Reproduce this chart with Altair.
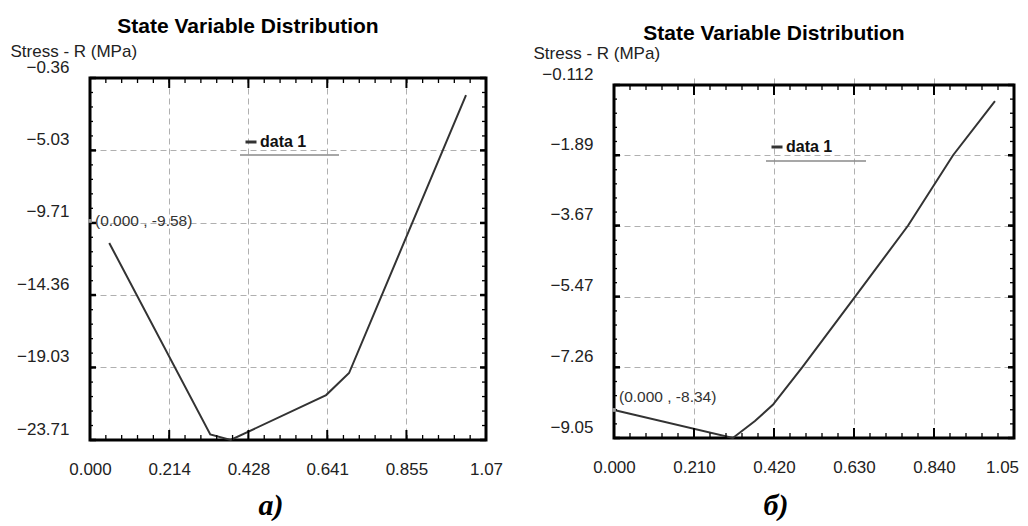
import altair as alt
import pandas as pd
import numpy as np

FONT = "Liberation Sans, Arial, sans-serif"
SERIF = "Liberation Serif, Times New Roman, serif"

TITLE = "State Variable Distribution"
Y_TITLE = "Stress - R (MPa)"
SERIES = "data 1"

# ---- panel a) ----
a_x = [0.052, 0.325, 0.380, 0.638, 0.700, 1.016]
a_y = [-11.00, -23.35, -23.71, -20.81, -19.39, -1.46]
a_xticks = [0.0, 0.214, 0.428, 0.641, 0.855, 1.07]
a_yticks = [-23.71, -19.03, -14.36, -9.71, -5.03, -0.36]
a_note_x = [0.0]
a_note_y = [-9.58]
a_note_txt = ["(0.000 , -9.58)"]
a_caption = "а)"

# ---- panel б) ----
b_x = [0.0, 0.312, 0.370, 0.417, 0.494, 0.633, 0.772, 0.890, 1.000]
b_y = [-8.34, -9.05, -8.62, -8.21, -7.26, -5.47, -3.67, -1.89, -0.52]
b_xticks = [0.0, 0.21, 0.42, 0.63, 0.84, 1.05]
b_yticks = [-9.05, -7.26, -5.47, -3.67, -1.89, -0.112]
b_note_x = [0.0]
b_note_y = [-8.34]
b_note_txt = ["(0.000 , -8.34)"]
b_caption = "б)"

XEXPR = "datum.value > 1 ? format(datum.value, '.2f') : format(datum.value, '.3f')"


def panel(xs, ys, xticks, yticks, nx, ny, ntxt, W, H, top, caption, cfg, yexpr):
    xmin, xmax = xticks[0], xticks[-1]
    ymin, ymax = yticks[0], yticks[-1]
    xsc = alt.Scale(domain=[xmin, xmax], nice=False, zero=False)
    ysc = alt.Scale(domain=[ymin, ymax], range=[H, top], nice=False, zero=False)

    xgrid_op = {"condition": {"test": f"datum.value <= {xmin + 1e-6} || datum.value >= {xmax - 1e-6}",
                              "value": 0}, "value": 1}
    ygrid_op = {"condition": {"test": f"datum.value <= {ymin + 1e-6} || datum.value >= {ymax - 1e-6}",
                              "value": 0}, "value": 1}
    last_off = {"condition": {"test": f"datum.value >= {xmax - 1e-6}", "value": cfg["lastoff"]},
                "value": 0}

    xaxis = alt.Axis(
        orient="bottom",
        values=xticks, grid=True, gridColor="#b0b0b0", gridDash=[6, 4], gridWidth=1,
        gridOpacity=xgrid_op, ticks=False, domain=False, labelFlush=False,
        labelOverlap=False, labelPadding=21, labelOffset=last_off, labelExpr=XEXPR, title=None,
        labelFont=FONT, labelFontSize=17, labelColor="#222")
    yaxis = alt.Axis(
        orient="left",
        values=yticks, grid=True, gridColor="#b0b0b0", gridDash=[6, 4], gridWidth=1,
        gridOpacity=ygrid_op, ticks=False, domain=False, labelFlush=False,
        labelOverlap=False, labelPadding=21, labelOffset=-11, labelExpr=yexpr,
        labelFont=FONT, labelFontSize=17, labelColor="#222",
        title=Y_TITLE, titleAngle=0, titleAlign="left", titleBaseline="alphabetic",
        titleX=cfg["ytx"], titleY=cfg["yty"], titleFontWeight="normal",
        titleFontSize=17, titleFont=FONT, titleColor="#222")

    # frame
    fdf = pd.DataFrame({"k": [0]})
    frame = alt.Chart(fdf).mark_rect(filled=False, stroke="black", strokeWidth=3).encode(
        x=alt.value(0), x2=alt.value(W), y=alt.value(top), y2=alt.value(H))

    # the data line carries the axes
    df_line = pd.DataFrame({"x": xs, "y": ys, "series": [SERIES] * len(xs)})
    line = alt.Chart(df_line).mark_line(strokeWidth=2).encode(
        x=alt.X("x:Q", scale=xsc, axis=xaxis),
        y=alt.Y("y:Q", scale=ysc, axis=yaxis),
        color=alt.Color("series:N", scale=alt.Scale(range=["#333333"]), legend=alt.Legend(
            orient="none", legendX=cfg["legx"], legendY=cfg["legy"], title=None,
            symbolType="stroke", symbolSize=121, symbolStrokeWidth=3, padding=0,
            labelOffset=1, labelFont=FONT, labelFontSize=16, labelFontWeight="bold",
            labelColor="#111")),
    )

    def Xn():
        return alt.X("x:Q", scale=xsc, axis=None)

    def Yn():
        return alt.Y("y:Q", scale=ysc, axis=None)

    # inward ticks on the frame: short stroke symbols placed by the axis scales
    xminor = list(np.linspace(xmin, xmax, 26))
    yminor = list(np.linspace(ymin, ymax, 26))

    def xt(vals, edge, L, w, sign):
        df = pd.DataFrame({"x": vals, "y": [edge] * len(vals)})
        return alt.Chart(df).mark_point(shape="M0,-1L0,1", filled=False, stroke="black",
                                        strokeWidth=w, size=L * L, opacity=1,
                                        yOffset=sign * L / 2).encode(x=Xn(), y=Yn())

    def yt(vals, edge, L, w, sign):
        df = pd.DataFrame({"x": [edge] * len(vals), "y": vals})
        return alt.Chart(df).mark_point(shape="M-1,0L1,0", filled=False, stroke="black",
                                        strokeWidth=w, size=L * L, opacity=1,
                                        xOffset=sign * L / 2).encode(x=Xn(), y=Yn())

    ticks = [
        xt(xminor, ymin, 5, 1.3, -1), xt(xminor, ymax, 5, 1.3, 1),
        xt(xticks, ymin, 10, 2, -1), xt(xticks, ymax, 10, 2, 1),
        yt(yminor, xmin, 3, 1.3, 1), yt(yminor, xmax, 4, 1.3, -1),
        yt(yticks, xmin, 6, 2.5, 1), yt(yticks, xmax, 6, 2.5, -1),
    ]

    ndf = pd.DataFrame({"x": nx, "y": ny, "t": ntxt})
    note = alt.Chart(ndf).mark_text(align="left", baseline="middle", dx=cfg["ndx"], dy=cfg["ndy"],
                                     font=FONT, fontSize=15.5, color="#333").encode(
        x=Xn(), y=Yn(), text="t:N")
    marker = alt.Chart(ndf).mark_square(size=14, color="#999", opacity=1).encode(x=Xn(), y=Yn())

    tdf = pd.DataFrame({"t": [TITLE]})
    title = alt.Chart(tdf).mark_text(align="center", baseline="alphabetic", font=FONT,
                                     fontSize=21, fontWeight="bold", color="black").encode(
        text="t:N", x=alt.value(cfg["tx"]), y=alt.value(cfg["ty"]))

    cdf = pd.DataFrame({"t": [caption]})
    cap = alt.Chart(cdf).mark_text(align="center", baseline="alphabetic", font=SERIF,
                                   fontSize=30, fontWeight="bold", fontStyle="italic",
                                   color="black").encode(
        text="t:N", x=alt.value(cfg["cx"]), y=alt.value(cfg["cy"]))

    underline = alt.Chart(tdf).mark_rule(color="#8a8a8a", strokeWidth=1.5).encode(
        x=alt.value(cfg["ul"][0]), x2=alt.value(cfg["ul"][1]), y=alt.value(cfg["ul"][2]))

    bound = alt.Chart(tdf).mark_rule(color="white", strokeWidth=1).encode(
        x=alt.value(cfg["bnd"][0]), x2=alt.value(cfg["bnd"][1]), y=alt.value(cfg["bnd"][2]))

    return alt.layer(frame, line, *ticks, marker, note, title, cap, underline, bound).resolve_axis(
        x="independent", y="independent").properties(
        width=W, height=H, view=alt.ViewBackground(stroke=None))


left = panel(a_x, a_y, a_xticks, a_yticks, a_note_x, a_note_y, a_note_txt, 396, 362, 0, a_caption,
             dict(ytx=-80, yty=-22, legx=153, legy=56, ndx=5, ndy=0, tx=158, ty=-45,
                  cx=181, cy=437, ul=(150, 249, 77), bnd=(-81, 414, -69), lastoff=0),
             "format(datum.value, '.2f')")
right = panel(b_x, b_y, b_xticks, b_yticks, b_note_x, b_note_y, b_note_txt, 400, 360, 7, b_caption,
              dict(ytx=-81, yty=-20, legx=155, legy=61, ndx=5, ndy=-13, tx=160, ty=-38,
                   cx=162, cy=437, ul=(152, 252, 83), bnd=(-85, 400, -69), lastoff=-12),
              "datum.value > -1 ? format(datum.value, '.3f') : format(datum.value, '.2f')")

chart = alt.hconcat(left, right, spacing=23).resolve_scale(
    color="independent").resolve_legend(color="independent").properties(
    padding=0, background="white")

chart.save("out.html", embed_options={"renderer": "svg", "actions": False})
